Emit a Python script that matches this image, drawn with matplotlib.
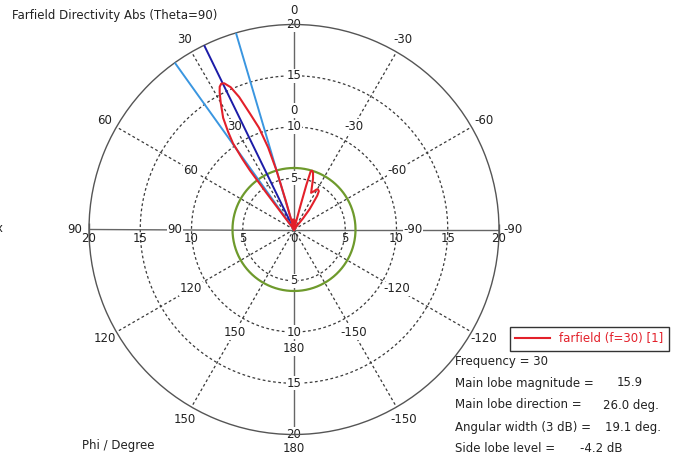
import numpy as np
import matplotlib.pyplot as plt

# farfield cut (phi in degrees, directivity in dBi, clipped at 0 for the plot)
phi_deg = [-180, -40, -39, -37.5, -36, -34.5, -33, -31, -29.5, -27.5, -25, -22.5,
           -20.5, -18.5, -17, -16, -15.5, -15.2, -15, -14.8, -10, -5, 0, 5, 10,
           15.5, 16, 16.5, 17.5, 19, 20.8, 22.5, 24, 25.5, 26.5, 27.5, 28.5, 30,
           32.4, 34, 35.3, 36.2, 36.7, 37, 37.2, 37.4, 180]
dir_db = [0, 0, 1.4, 2.5, 3.1, 4.0, 4.45, 4.55, 4.5, 4.2, 3.95, 4.6,
          5.3, 5.85, 6.0, 5.9, 4.5, 2.5, 0.8, 0, 0, 0.9, 0.3, 1.0, 0,
          0, 3.0, 6.0, 8.4, 10.5, 12.1, 14.0, 15.2, 15.8, 15.9, 15.7, 15.2, 14.3,
          12.9, 11.5, 10.3, 8.5, 7.2, 4.5, 1.5, 0, 0]

main_dir = 26.0
beam_width = 19.1
sll_circle = 6.0

radial_ticks = [5, 10, 15, 20]
angle_ticks = [0, 30, 60, 90, 120, 150, 180, -150, -120, -90, -60, -30]

info_labels = ["Main lobe magnitude =", "Main lobe direction =",
               "Angular width (3 dB) =", "Side lobe level ="]
info_values = ["15.9", "26.0 deg.", "19.1 deg.", "-4.2 dB"]

W, H = 674, 457
txt = '#222222'
fs = 8.5


def fx(x):
    return x / W


def fy(y):
    return 1 - y / H


fig = plt.figure(figsize=(W / 100, H / 100), dpi=100)
cx, cy, R = 294, 229.5, 205
ax = fig.add_axes([fx(cx - R), fy(cy + R), 2 * R / W, 2 * R / H], projection='polar')
ax.set_theta_zero_location('N')
ax.set_theta_direction(1)
ax.set_ylim(0, 20)
ax.grid(False)
ax.set_xticks([])
ax.set_yticks([])
ax.spines['polar'].set_color('#555555')
ax.spines['polar'].set_linewidth(1.0)

# dashed circles and spokes
t = np.linspace(0, 2 * np.pi, 400)
dash = (0, (2.2, 2.0))
for r in radial_ticks[:-1]:
    ax.plot(t, np.full_like(t, r), color='#3a3a3a', lw=0.9, ls=dash, zorder=1)
for a in angle_ticks:
    if a % 90 != 0:
        ax.plot([np.radians(a)] * 2, [0, 20], color='#3a3a3a', lw=0.9, ls=dash, zorder=1)

# main axes cross
for a in [0, 90, 180, -90]:
    ax.plot([np.radians(a)] * 2, [0, 20], color='#666666', lw=1.0, zorder=1.5)
ax.plot([np.radians(90), np.radians(-90)], [20, 20], ls='none', marker='|',
        ms=9, mew=1.0, color='#666666', clip_on=False)

# radial labels on the vertical axis
bb = dict(facecolor='white', edgecolor='none', pad=0.5)
for r in radial_ticks:
    for a in [0, 180]:
        ax.text(np.radians(a), r, str(r), ha='center', va='center', fontsize=fs,
                color=txt, bbox=bb, zorder=2, clip_on=False)
# radial labels below the horizontal axis
for r in radial_ticks:
    for a in [90, -90]:
        ax.annotate(str(r), xy=(np.radians(a), r), xytext=(0, -6.5), textcoords='offset points',
                    ha='center', va='center', fontsize=fs, color=txt, annotation_clip=False)
ax.annotate('0', xy=(0, 0), xytext=(0, -6.5), textcoords='offset points',
            ha='center', va='center', fontsize=fs, color=txt, annotation_clip=False)

# angle labels, inner ring and outer ring
for a in angle_ticks:
    ax.text(np.radians(a), 11.6, str(a), ha='center', va='center', fontsize=fs,
            color=txt, bbox=bb, zorder=2, clip_on=False)
    ax.text(np.radians(a), 21.35, str(a), ha='center', va='center', fontsize=fs,
            color=txt, clip_on=False)

# green circle
ax.plot(t, np.full_like(t, sll_circle), color='#6e9a2c', lw=1.6, zorder=3)

# beam direction and 3 dB width
ax.plot([np.radians(main_dir)] * 2, [0, 20], color='#1c1ca8', lw=1.4, zorder=4)
for d in [main_dir - beam_width / 2, main_dir + beam_width / 2]:
    ax.plot([np.radians(d)] * 2, [0, 20], color='#3a96e0', lw=1.4, zorder=4)

# farfield curve
line, = ax.plot(np.radians(phi_deg), dir_db, color='#e3202a', lw=1.5, zorder=5)

# texts
fig.text(fx(12), fy(15), 'Farfield Directivity Abs (Theta=90)', fontsize=fs, color=txt,
         ha='left', va='center')
fig.text(fx(82), fy(446), 'Phi / Degree', fontsize=fs, color=txt, ha='left', va='center')
fig.text(fx(-4), fy(229), 'x', fontsize=fs, color=txt, ha='left', va='center')

leg = fig.legend([line], ['farfield (f=30) [1]'], loc='upper left',
                 bbox_to_anchor=(fx(510), fy(327)), frameon=True, fancybox=False,
                 edgecolor='black', fontsize=fs, handlelength=2.9, borderpad=0.45,
                 handletextpad=0.8, borderaxespad=0, labelcolor='#e3202a')
leg.get_frame().set_linewidth(1.0)

fig.text(fx(455), fy(362), 'Frequency = 30', fontsize=fs, color=txt, ha='left', va='center')
ys = [383, 405, 427, 449]
vx = [617, 603, 605, 580]
for lab, val, y, x in zip(info_labels, info_values, ys, vx):
    fig.text(fx(455), fy(y), lab, fontsize=fs, color=txt, ha='left', va='center')
    fig.text(fx(x), fy(y), val, fontsize=fs, color=txt, ha='left', va='center')

fig.savefig('out.png', dpi=100)
